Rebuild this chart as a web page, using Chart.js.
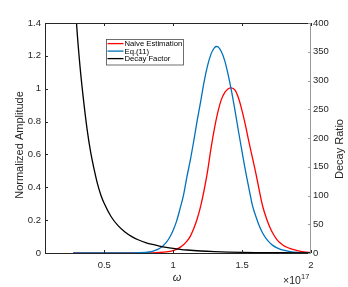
<!DOCTYPE html>
<html><head><meta charset="utf-8">
<script src="https://cdn.jsdelivr.net/npm/chart.js@4"></script>
<style>html,body{margin:0;padding:0;background:#fff;overflow:hidden}#wrap{width:348px;height:287px;position:relative}</style>
</head><body><div id="wrap"><canvas id="c" width="348" height="287"></canvas></div>
<script>
// ---- data (omega in units of 1e17) ----
const naiveOmega = [0.275,0.6,0.8,0.85,0.9,0.95,1.0,1.025,1.05,1.075,1.1,1.125,1.15,1.175,1.2,1.225,1.25,1.275,1.3,1.325,1.35,1.375,1.4,1.42,1.45,1.475,1.5,1.525,1.55,1.575,1.6,1.625,1.65,1.675,1.7,1.725,1.75,1.775,1.8,1.825,1.85,1.875,1.9,1.95,2.0];
const naiveAmp   = [0,0,0.0004,0.001,0.003,0.007,0.015,0.022,0.034,0.05,0.072,0.103,0.15,0.21,0.287,0.385,0.5,0.64,0.76,0.86,0.935,0.978,1.0,1.005,0.99,0.94,0.865,0.775,0.675,0.58,0.485,0.38,0.283,0.215,0.16,0.117,0.085,0.062,0.046,0.035,0.027,0.02,0.014,0.006,0.002];

const eq11Omega = [0.275,0.5,0.7,0.8,0.825,0.85,0.875,0.9,0.925,0.95,0.975,1.0,1.025,1.05,1.075,1.1,1.125,1.15,1.175,1.2,1.225,1.25,1.275,1.3,1.315,1.325,1.35,1.375,1.4,1.425,1.45,1.475,1.5,1.525,1.55,1.575,1.6,1.625,1.65,1.675,1.7,1.725,1.75,1.775,1.8,1.85,1.9,1.95,2.0];
const eq11Amp   = [0,0,0.0003,0.0035,0.006,0.0103,0.017,0.0274,0.043,0.065,0.096,0.139,0.194,0.27,0.352,0.465,0.568,0.686,0.81,0.925,1.045,1.142,1.212,1.25,1.257,1.255,1.225,1.168,1.081,0.977,0.86,0.735,0.615,0.498,0.392,0.29,0.222,0.165,0.12,0.087,0.063,0.045,0.033,0.024,0.017,0.008,0.003,0.001,0];

const decayOmega = [0.275,0.3,0.325,0.35,0.375,0.4,0.425,0.45,0.475,0.5,0.55,0.6,0.65,0.7,0.75,0.8,0.85,0.9,0.95,1.0,1.05,1.1,1.2,1.3,1.4,1.5,1.6,1.8,2.0];
const decayRatio = [500,395,322,265,216,177,147,121,101,86,63,47.5,36.5,28.5,22.6,18.2,14.8,12.0,9.7,7.9,6.4,5.2,3.5,2.4,1.65,1.15,0.8,0.4,0.2];

const xTicks = [0.5,1,1.5,2];
const xTickLabels = ['0.5','1','1.5','2'];
const leftTicks = [0,0.2,0.4,0.6,0.8,1,1.2,1.4];
const leftTickLabels = ['0','0.2','0.4','0.6','0.8','1','1.2','1.4'];
const rightTicks = [0,50,100,150,200,250,300,350,400];
const rightTickLabels = ['0','50','100','150','200','250','300','350','400'];

const seriesNames = ['Naive Estimation','Eq.(11)','Decay Factor'];
const seriesColors = ['#FF0000','#0072BD','#000000'];

const FONT = '"Liberation Sans", Arial, Helvetica, sans-serif';
const TXT = '#262626';

function pts(xs, ys){ return xs.map((x,i)=>({x:x,y:ys[i]})); }

const decor = {
  id:'decor',
  afterDatasetsDraw(chart){
    const ctx = chart.ctx, a = chart.chartArea;
    const sx = chart.scales.x, sl = chart.scales.y, sr = chart.scales.y2;
    const TL = 3;
    ctx.save();
    ctx.lineWidth = 1;
    ctx.strokeStyle = TXT;
    ctx.beginPath();
    ctx.moveTo(a.left+0.5, a.top); ctx.lineTo(a.left+0.5, a.bottom);
    ctx.moveTo(a.left, a.bottom+0.5); ctx.lineTo(a.right, a.bottom+0.5);
    ctx.moveTo(a.left, a.top+0.5); ctx.lineTo(a.right, a.top+0.5);
    xTicks.forEach(v=>{ const px=Math.round(sx.getPixelForValue(v))+0.5;
      ctx.moveTo(px,a.bottom); ctx.lineTo(px,a.bottom-TL);
      ctx.moveTo(px,a.top); ctx.lineTo(px,a.top+TL); });
    leftTicks.forEach(v=>{ const py=Math.round(sl.getPixelForValue(v))+0.5;
      ctx.moveTo(a.left,py); ctx.lineTo(a.left+TL,py); });
    ctx.stroke();
    ctx.strokeStyle = '#9a9a9a';
    ctx.beginPath();
    ctx.moveTo(a.right-0.5, a.top); ctx.lineTo(a.right-0.5, a.bottom+1);
    rightTicks.forEach(v=>{ const py=Math.round(sr.getPixelForValue(v))+0.5;
      ctx.moveTo(a.right,py); ctx.lineTo(a.right-TL,py); });
    ctx.stroke();

    // legend
    const lx=106.5, ly=39.5, lw=77, lh=25.5;
    ctx.fillStyle='#fff'; ctx.fillRect(lx,ly,lw,lh);
    ctx.strokeStyle='#4a4a4a'; ctx.lineWidth=0.8; ctx.strokeRect(lx,ly,lw,lh);
    ctx.font = '7.7px '+FONT; ctx.textBaseline='middle'; ctx.textAlign='left';
    seriesNames.forEach((n,i)=>{
      const y = 43.6 + i*7.5;
      ctx.strokeStyle = seriesColors[i]; ctx.lineWidth=1.3;
      ctx.beginPath(); ctx.moveTo(107.5,y); ctx.lineTo(123.5,y); ctx.stroke();
      ctx.fillStyle='#000'; ctx.fillText(n,124.5,y+0.3);
    });

    // axis titles
    ctx.fillStyle = TXT;
    ctx.font = '11px '+FONT;
    ctx.textAlign='center'; ctx.textBaseline='middle';
    ctx.save(); ctx.translate(20,145); ctx.rotate(-Math.PI/2); ctx.fillText('Normalized Amplitude',0,0); ctx.restore();
    ctx.save(); ctx.translate(340,149); ctx.rotate(-Math.PI/2); ctx.fillText('Decay Ratio',0,0); ctx.restore();
    ctx.font = 'italic 11px '+FONT;
    ctx.fillText('\u03C9',177,278);
    ctx.font = '10.5px '+FONT; ctx.textAlign='left';
    const base = '\u00D710';
    ctx.fillText(base,283,281);
    const w = ctx.measureText(base).width;
    ctx.font = '7.5px '+FONT;
    ctx.fillText('17',283+w+0.3,276.5);
    ctx.restore();
  }
};

const ds = (label, data, color, axis, order) => ({
  label, data, borderColor: color, backgroundColor: color, borderWidth: 1.3,
  pointRadius: 0, fill: false, cubicInterpolationMode: 'monotone',
  yAxisID: axis, order
});

new Chart(document.getElementById('c'), {
  type: 'line',
  data: { datasets: [
    ds(seriesNames[0], pts(naiveOmega, naiveAmp), seriesColors[0], 'y', 2),
    ds(seriesNames[1], pts(eq11Omega, eq11Amp), seriesColors[1], 'y', 1),
    ds(seriesNames[2], pts(decayOmega, decayRatio), seriesColors[2], 'y2', 0)
  ]},
  options: {
    responsive: false, animation: false, devicePixelRatio: 1,
    layout: { padding: { top: 23, left: 0, right: 0, bottom: 0 } },
    plugins: { legend: { display: false }, tooltip: { enabled: false } },
    scales: {
      x: { type: 'linear', min: 0.07, max: 2.0,
        grid: { display: false, drawTicks: false }, border: { display: false },
        afterBuildTicks: s => { s.ticks = xTicks.map(v=>({value:v})); },
        afterFit: s => { s.height = 34; },
        ticks: { padding: 7, color: TXT, font: { family: FONT, size: 9.5 }, maxRotation: 0, autoSkip: false,
          callback: v => xTickLabels[xTicks.indexOf(v)] } },
      y: { type: 'linear', position: 'left', min: 0, max: 1.4,
        grid: { display: false, drawTicks: false }, border: { display: false },
        afterBuildTicks: s => { s.ticks = leftTicks.map(v=>({value:v})); },
        afterFit: s => { s.width = 45; },
        ticks: { padding: 4, color: TXT, font: { family: FONT, size: 9.5 }, autoSkip: false,
          callback: v => leftTickLabels[leftTicks.indexOf(v)] } },
      y2: { type: 'linear', position: 'right', min: 0, max: 400,
        grid: { display: false, drawTicks: false }, border: { display: false },
        afterBuildTicks: s => { s.ticks = rightTicks.map(v=>({value:v})); },
        afterFit: s => { s.width = 37; },
        ticks: { padding: 2, color: TXT, font: { family: FONT, size: 9.5 }, autoSkip: false,
          callback: v => rightTickLabels[rightTicks.indexOf(v)] } }
    }
  },
  plugins: [decor]
});
</script>
</body></html>
